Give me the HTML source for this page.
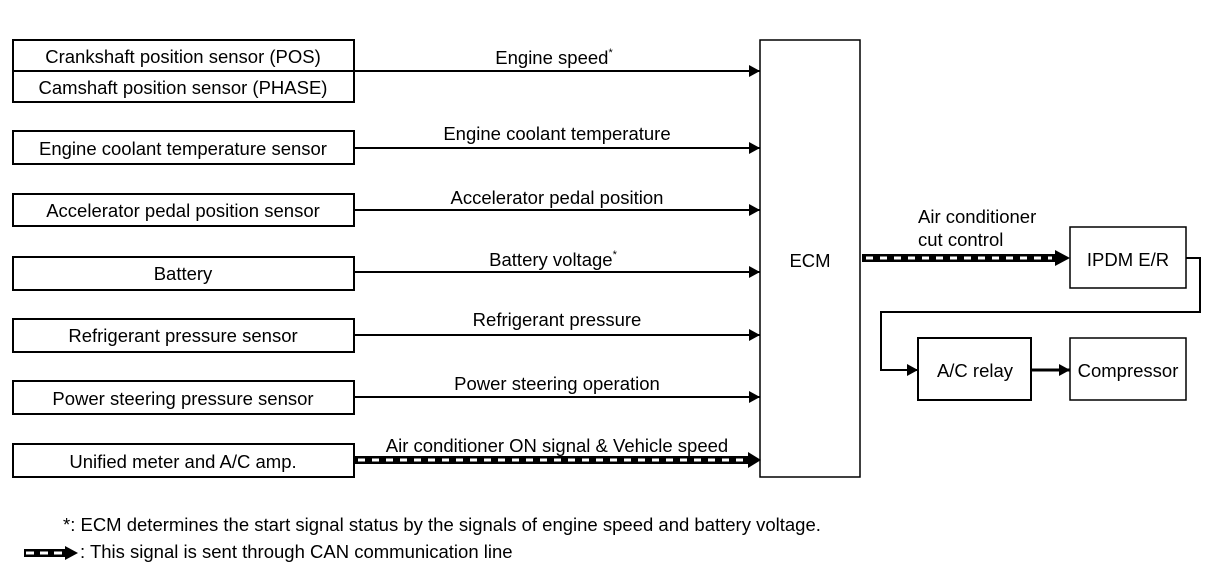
<!DOCTYPE html>
<html><head><meta charset="utf-8"><style>
html,body{margin:0;padding:0;background:#fff;}
svg{display:block;}
text{font-family:"Liberation Sans",Arial,sans-serif;font-size:18.5px;fill:#000;}
</style></head><body>
<svg width="1216" height="582" viewBox="0 0 1216 582" xmlns="http://www.w3.org/2000/svg">
<defs>
<marker id="ah" markerWidth="11" markerHeight="12" refX="11" refY="6" orient="auto" markerUnits="userSpaceOnUse">
<path d="M0,0 L11,6 L0,12 Z" fill="#000"/></marker>
</defs>
<g fill="none" stroke="#000" stroke-width="2">
<rect x="13" y="40" width="341" height="62"/>
<line x1="13" y1="71" x2="354" y2="71"/>
<rect x="13" y="131" width="341" height="33"/>
<rect x="13" y="194" width="341" height="32"/>
<rect x="13" y="257" width="341" height="33"/>
<rect x="13" y="319" width="341" height="33"/>
<rect x="13" y="381" width="341" height="33"/>
<rect x="13" y="444" width="341" height="33"/>
<rect x="760" y="40" width="100" height="437" stroke-width="1.5"/>
<rect x="1070" y="227" width="116" height="61" stroke-width="1.5"/>
<rect x="918" y="338" width="113" height="62"/>
<rect x="1070" y="338" width="116" height="62" stroke-width="1.5"/>
</g>
<g stroke="#000" stroke-width="2" marker-end="url(#ah)">
<line x1="354" y1="71" x2="760" y2="71"/>
<line x1="354" y1="148" x2="760" y2="148"/>
<line x1="354" y1="210" x2="760" y2="210"/>
<line x1="354" y1="272" x2="760" y2="272"/>
<line x1="354" y1="335" x2="760" y2="335"/>
<line x1="354" y1="397" x2="760" y2="397"/>
<polyline points="1186,258 1200,258 1200,312 881,312 881,370 918,370" fill="none" stroke-width="2"/>
<line x1="1031" y1="370" x2="1070" y2="370" stroke-width="3"/>
</g>
<g>
<line x1="354" y1="460" x2="750" y2="460" stroke="#000" stroke-width="8"/>
<line x1="358" y1="460" x2="748" y2="460" stroke="#fff" stroke-width="3" stroke-dasharray="7,7"/>
<path d="M748,452 L761,460 L748,468 Z" fill="#000"/>
<line x1="862" y1="258" x2="1057" y2="258" stroke="#000" stroke-width="8"/>
<line x1="866" y1="258" x2="1052" y2="258" stroke="#fff" stroke-width="3" stroke-dasharray="7,7"/>
<path d="M1055,250 L1070,258 L1055,266 Z" fill="#000"/>
<line x1="24" y1="553" x2="66" y2="553" stroke="#000" stroke-width="8"/>
<line x1="26" y1="553" x2="64" y2="553" stroke="#fff" stroke-width="3" stroke-dasharray="8,6"/>
<path d="M65,546 L78,553 L65,560 Z" fill="#000"/>
</g>
<g text-anchor="middle">
<text x="183" y="63">Crankshaft position sensor (POS)</text>
<text x="183" y="94">Camshaft position sensor (PHASE)</text>
<text x="183" y="155">Engine coolant temperature sensor</text>
<text x="183" y="217">Accelerator pedal position sensor</text>
<text x="183" y="280">Battery</text>
<text x="183" y="342">Refrigerant pressure sensor</text>
<text x="183" y="405">Power steering pressure sensor</text>
<text x="183" y="468">Unified meter and A/C amp.</text>
<text x="554" y="64">Engine speed<tspan font-size="11" dy="-8">*</tspan></text>
<text x="557" y="140">Engine coolant temperature</text>
<text x="557" y="204">Accelerator pedal position</text>
<text x="553" y="266">Battery voltage<tspan font-size="11" dy="-8">*</tspan></text>
<text x="557" y="326">Refrigerant pressure</text>
<text x="557" y="390">Power steering operation</text>
<text x="557" y="452">Air conditioner ON signal &amp; Vehicle speed</text>
<text x="810" y="267">ECM</text>
<text x="1128" y="266">IPDM E/R</text>
<text x="975" y="377">A/C relay</text>
<text x="1128" y="377">Compressor</text>
</g>
<text x="918" y="223">Air conditioner</text>
<text x="918" y="246">cut control</text>
<text x="63" y="531">*: ECM determines the start signal status by the signals of engine speed and battery voltage.</text>
<text x="80" y="558">: This signal is sent through CAN communication line</text>
</svg>
</body></html>
